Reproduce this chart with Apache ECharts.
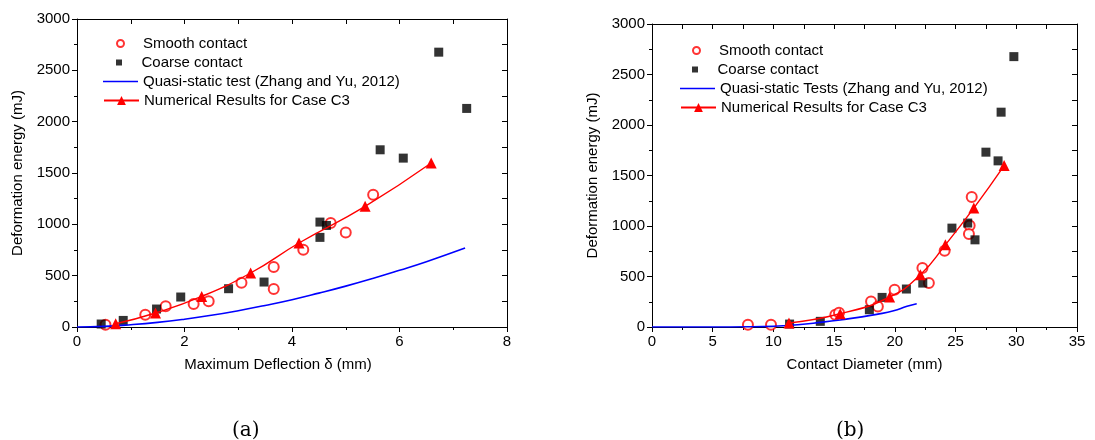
<!DOCTYPE html>
<html>
<head>
<meta charset="utf-8">
<script src="https://cdn.jsdelivr.net/npm/echarts@6/dist/echarts.min.js"></script>
<style>
html, body { margin: 0; padding: 0; background: #fff; }
#main { width: 1095px; height: 440px; }
</style>
</head>
<body>
<div id="main"></div>
<script>
// (a) deformation energy vs maximum deflection
var smoothA = [[0.53, 22], [1.27, 120], [1.65, 201], [2.17, 224], [2.45, 250], [3.06, 431],
  [3.66, 584], [3.66, 370], [4.21, 753], [4.72, 1012], [5.0, 921], [5.51, 1288]];
var coarseA = [[0.45, 29], [0.86, 64], [1.48, 175], [1.93, 292], [2.82, 373], [3.48, 438],
  [4.52, 1022], [4.64, 989], [4.52, 873], [5.64, 1726], [6.07, 1645], [6.73, 2677], [7.25, 2129]];
var quasiA = [[0, 0], [0.5, 6], [1, 22], [1.5, 45], [2, 76], [2.5, 114], [3, 159], [3.5, 210],
  [4, 266], [4.5, 330], [5, 398], [5.5, 472], [6, 552], [6.5, 636], [7.22, 769]];
var numA = [[0.72, 32], [1.46, 136], [2.32, 298], [3.23, 526], [4.13, 818], [5.36, 1175], [6.59, 1597]];

// (b) deformation energy vs contact diameter
var smoothB = [[7.9, 23], [9.8, 23], [15.1, 122], [15.4, 140], [18.04, 253], [18.6, 204], [19.98, 369],
  [22.27, 583], [22.8, 435], [24.1, 755], [26.16, 1005], [26.1, 920], [26.33, 1286]];
var coarseB = [[11.33, 29], [13.86, 56], [17.9, 171], [18.95, 293], [20.95, 376], [22.3, 435],
  [24.7, 979], [26.0, 1029], [26.6, 863], [27.5, 1731], [28.5, 1645], [28.75, 2127], [29.8, 2677]];
var quasiB = [[0, 0], [5, 0], [8, 2], [10, 8], [12, 22], [14, 48], [15.5, 70], [17, 95],
  [18.5, 125], [19.9, 160], [21, 205], [21.8, 230]];
var numB = [[11.28, 40], [15.5, 131], [19.57, 297], [22.1, 517], [24.16, 814], [26.5, 1177], [29.0, 1598]];

var namesA = ['Smooth contact', 'Coarse contact', 'Quasi-static test (Zhang and Yu, 2012)', 'Numerical Results for Case C3'];
var namesB = ['Smooth contact ', 'Coarse contact ', 'Quasi-static Tests (Zhang and Yu, 2012)', 'Numerical Results for Case C3 '];

var FONT = "'Liberation Sans', Arial, sans-serif";
var SQUARE = 'path://M0,0L10,0L10,10L0,10Z';
var HLINE = 'path://M0,0L35,0L35,1.6L0,1.6Z';

function plain(v) { return String(v); }

function mainAxis(gi, pos, min, max, interval, name, gap, namePad) {
  return {
    type: 'value', gridIndex: gi, position: pos, min: min, max: max, interval: interval,
    name: name, nameLocation: 'middle', nameGap: gap,
    nameTextStyle: { fontFamily: FONT, fontSize: 15, color: '#000', padding: namePad || 0 },
    axisLine: { show: true, onZero: false, lineStyle: { color: '#000', width: 1 } },
    axisTick: { show: true, inside: false, length: 5, lineStyle: { color: '#000' } },
    minorTick: { show: true, splitNumber: 2, length: 3, lineStyle: { color: '#000' } },
    axisLabel: { fontFamily: FONT, fontSize: 15, color: '#000', margin: 7, formatter: plain,
      showMinLabel: true, showMaxLabel: true },
    splitLine: { show: false }
  };
}

function mirrorAxis(gi, pos, min, max, interval) {
  return {
    type: 'value', gridIndex: gi, position: pos, min: min, max: max, interval: interval,
    axisLine: { show: true, onZero: false, lineStyle: { color: '#000', width: 1 } },
    axisTick: { show: true, inside: true, length: 5, lineStyle: { color: '#000' } },
    axisLabel: { show: false },
    splitLine: { show: false }
  };
}

// one legend per entry so every icon can have its own size
function legendItem(left, top, name, icon, h) {
  return {
    orient: 'vertical', left: left, top: top, padding: 0, itemWidth: 35, itemHeight: h,
    textStyle: { fontFamily: FONT, fontSize: 15, color: '#000' },
    data: [icon ? { name: name, icon: icon } : name]
  };
}

var myChart = echarts.init(document.getElementById('main'));

var option = {
  backgroundColor: '#fff',
  animation: false,
  grid: [
    { left: 77, right: 588, top: 19, bottom: 113 },
    { left: 652, right: 18, top: 24, bottom: 113 }
  ],
  xAxis: [
    mainAxis(0, 'bottom', 0, 8, 2, 'Maximum Deflection \u03b4 (mm)', 30, [0, 28, 0, 0]),
    mirrorAxis(0, 'top', 0, 8, 1),
    mainAxis(1, 'bottom', 0, 35, 5, 'Contact Diameter (mm)', 30),
    mirrorAxis(1, 'top', 0, 35, 2.5)
  ],
  yAxis: [
    mainAxis(0, 'left', 0, 3000, 500, 'Deformation energy (mJ)', 52),
    mirrorAxis(0, 'right', 0, 3000, 250),
    mainAxis(1, 'left', 0, 3000, 500, 'Deformation energy (mJ)', 52),
    mirrorAxis(1, 'right', 0, 3000, 250)
  ],
  legend: [
    legendItem(116, 36, namesA[0], 'emptyCircle', 7),
    legendItem(116, 55, namesA[1], SQUARE, 6),
    legendItem(103, 74, namesA[2], HLINE, 10),
    legendItem(103, 93, namesA[3], null, 11),
    legendItem(692, 43, namesB[0], 'emptyCircle', 7),
    legendItem(692, 62, namesB[1], SQUARE, 6),
    legendItem(680, 81, namesB[2], HLINE, 10),
    legendItem(680, 100, namesB[3], null, 11)
  ],
  graphic: [
    { type: 'text', left: 232, top: 421, style: { text: '(a)', fontFamily: "'DejaVu Serif', serif", fontSize: 20, fill: '#000' } },
    { type: 'text', left: 836, top: 421, style: { text: '(b)', fontFamily: "'DejaVu Serif', serif", fontSize: 20, fill: '#000' } }
  ],
  series: [
    { name: namesA[2], type: 'line', xAxisIndex: 0, yAxisIndex: 0,
      data: quasiA, smooth: true, symbol: 'none', lineStyle: { color: '#0000ff', width: 1.6 }, itemStyle: { color: '#0000ff' } },
    { name: namesA[3], type: 'line', xAxisIndex: 0, yAxisIndex: 0,
      data: numA, smooth: true, symbol: 'triangle', symbolSize: 11, lineStyle: { color: '#ff0000', width: 1.4 }, itemStyle: { color: '#ff0000' } },
    { name: namesA[0], type: 'scatter', xAxisIndex: 0, yAxisIndex: 0, data: smoothA,
      symbol: 'emptyCircle', symbolSize: 10, itemStyle: { color: '#ff0000', borderColor: '#ff0000', borderWidth: 1.2 } },
    { name: namesA[1], type: 'scatter', xAxisIndex: 0, yAxisIndex: 0, data: coarseA,
      symbol: 'rect', symbolSize: 9, itemStyle: { color: '#000' } },

    { name: namesB[2], type: 'line', xAxisIndex: 2, yAxisIndex: 2,
      data: quasiB, smooth: true, symbol: 'none', lineStyle: { color: '#0000ff', width: 1.6 }, itemStyle: { color: '#0000ff' } },
    { name: namesB[3], type: 'line', xAxisIndex: 2, yAxisIndex: 2,
      data: numB, smooth: true, symbol: 'triangle', symbolSize: 11, lineStyle: { color: '#ff0000', width: 1.4 }, itemStyle: { color: '#ff0000' } },
    { name: namesB[0], type: 'scatter', xAxisIndex: 2, yAxisIndex: 2, data: smoothB,
      symbol: 'emptyCircle', symbolSize: 10, itemStyle: { color: '#ff0000', borderColor: '#ff0000', borderWidth: 1.2 } },
    { name: namesB[1], type: 'scatter', xAxisIndex: 2, yAxisIndex: 2, data: coarseB,
      symbol: 'rect', symbolSize: 9, itemStyle: { color: '#000' } }
  ]
};

myChart.setOption(option);
</script>
</body>
</html>
